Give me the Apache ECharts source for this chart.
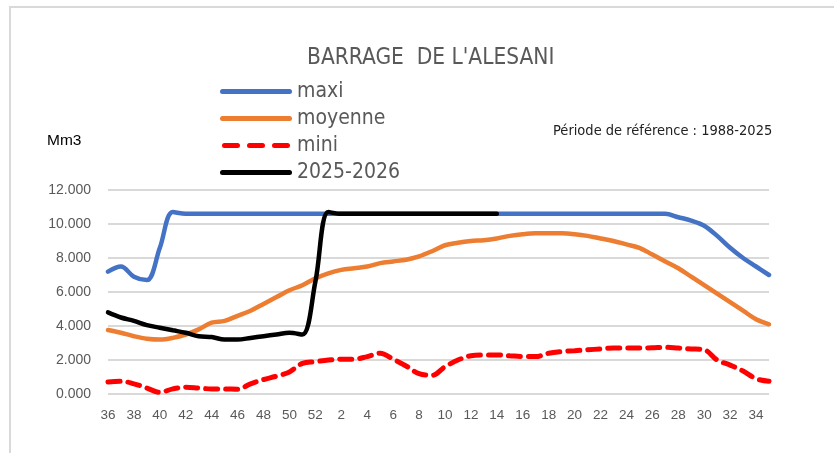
<!DOCTYPE html>
<html>
<head>
<meta charset="utf-8">
<script src="https://cdn.jsdelivr.net/npm/echarts@6/dist/echarts.min.js"></script>
<style>
  html, body { margin: 0; padding: 0; background: #fff; }
  #frame { position: absolute; left: 9px; top: 6px; width: 840px; height: 460px;
           border-left: 2px solid #d9d9d9; border-top: 2px solid #d9d9d9; }
  #chart { position: absolute; left: 0; top: 0; width: 834px; height: 453px; }
</style>
</head>
<body>
<div id="frame"></div>
<div id="chart"></div>
<script>
// semaines : 36 -> 52 puis 1 -> 35
const weeks = [36, 37, 38, 39, 40, 41, 42, 43, 44, 45, 46, 47, 48, 49, 50, 51, 52,
  1, 2, 3, 4, 5, 6, 7, 8, 9, 10, 11, 12, 13, 14, 15, 16, 17, 18, 19, 20,
  21, 22, 23, 24, 25, 26, 27, 28, 29, 30, 31, 32, 33, 34, 35];

// volumes en Mm3
const maxi = [7.2, 7.5, 6.9, 6.7, 8.6, 10.7, 10.6, 10.6, 10.6, 10.6, 10.6, 10.6, 10.6, 10.6, 10.6, 10.6, 10.6,
  10.6, 10.6, 10.6, 10.6, 10.6, 10.6, 10.6, 10.6, 10.6, 10.6, 10.6, 10.6, 10.6, 10.6, 10.6, 10.6, 10.6, 10.6, 10.6, 10.6,
  10.6, 10.6, 10.6, 10.6, 10.6, 10.6, 10.6, 10.4, 10.2, 9.9, 9.3, 8.6, 8.0, 7.5, 7.0];

const moyenne = [3.76, 3.6, 3.4, 3.25, 3.2, 3.3, 3.5, 3.8, 4.2, 4.3, 4.6, 4.9, 5.3, 5.7, 6.1, 6.4, 6.8,
  7.1, 7.3, 7.4, 7.5, 7.7, 7.8, 7.9, 8.1, 8.4, 8.75, 8.9, 9.0, 9.05, 9.15, 9.3, 9.4, 9.45, 9.45, 9.45, 9.4,
  9.3, 9.15, 9.0, 8.8, 8.6, 8.2, 7.8, 7.4, 6.9, 6.4, 5.9, 5.4, 4.9, 4.4, 4.1];

const mini = [0.7, 0.75, 0.6, 0.35, 0.1, 0.3, 0.4, 0.35, 0.3, 0.3, 0.28, 0.6, 0.85, 1.05, 1.3, 1.8, 1.9,
  2.0, 2.05, 2.05, 2.2, 2.4, 2.05, 1.65, 1.2, 1.1, 1.6, 2.0, 2.25, 2.3, 2.3, 2.25, 2.2, 2.2, 2.4, 2.5, 2.55,
  2.6, 2.65, 2.7, 2.7, 2.7, 2.72, 2.75, 2.7, 2.65, 2.6, 2.0, 1.7, 1.35, 0.9, 0.75];

const saison = [4.8, 4.5, 4.3, 4.05, 3.9, 3.75, 3.6, 3.4, 3.35, 3.2, 3.2, 3.3, 3.4, 3.5, 3.6, 3.5, 6.6,
  10.7, 10.6, 10.6, 10.6, 10.6, 10.6, 10.6, 10.6, 10.6, 10.6, 10.6, 10.6, 10.6, 10.6];

const yTicks = [0, 2, 4, 6, 8, 10, 12];

const narrow = "'Liberation Sans Narrow', 'DejaVu Sans Condensed', 'Liberation Sans', sans-serif";
const plain = "'Liberation Sans', Arial, sans-serif";
const grey = '#595959';

const solidIcon = 'path://M2.5,0 H69.5 A2.5,2.5 0 0 1 69.5,5 H2.5 A2.5,2.5 0 0 1 2.5,0 Z';
const dashIcon = 'path://M2.5,0 H15.5 A2.5,2.5 0 0 1 15.5,5 H2.5 A2.5,2.5 0 0 1 2.5,0 Z ' +
  'M27.5,0 H40.5 A2.5,2.5 0 0 1 40.5,5 H27.5 A2.5,2.5 0 0 1 27.5,0 Z ' +
  'M52.5,0 H65.5 A2.5,2.5 0 0 1 65.5,5 H52.5 A2.5,2.5 0 0 1 52.5,0 Z';

const chart = echarts.init(document.getElementById('chart'));

chart.setOption({
  animation: false,
  title: {
    text: "BARRAGE  DE L'ALESANI",
    left: 302,
    top: 42,
    textStyle: { color: grey, fontFamily: narrow, fontWeight: 'normal', fontSize: 22.5 }
  },
  legend: {
    orient: 'vertical',
    left: 215,
    top: 76,
    itemWidth: 72,
    itemHeight: 5,
    itemGap: 6,
    textStyle: { color: grey, fontFamily: narrow, fontSize: 21 },
    data: [
      { name: 'maxi', icon: solidIcon },
      { name: 'moyenne', icon: solidIcon },
      { name: 'mini', icon: dashIcon },
      { name: '2025-2026', icon: solidIcon }
    ]
  },
  graphic: [
    { type: 'text', left: 47, top: 133, style: { text: 'Mm3', fill: '#000', font: '15.5px ' + plain } },
    { type: 'text', left: 553, top: 124, style: { text: 'Période de référence : 1988-2025', fill: '#222', font: '14.5px ' + narrow } }
  ],
  grid: { left: 108, right: 65, top: 190, bottom: 59 },
  xAxis: {
    type: 'category',
    data: weeks,
    boundaryGap: false,
    axisLine: { show: false },
    axisTick: { show: false },
    axisLabel: { interval: 1, color: grey, fontFamily: plain, fontSize: 13.5, margin: 14 }
  },
  yAxis: {
    type: 'value',
    min: yTicks[0],
    max: yTicks[yTicks.length - 1],
    interval: 2,
    axisLine: { show: false },
    axisTick: { show: false },
    splitLine: { lineStyle: { color: '#d9d9d9', width: 2 } },
    axisLabel: { color: grey, fontFamily: plain, fontSize: 14, margin: 17,
      formatter: v => v.toFixed(3) }
  },
  series: [
    { name: 'maxi', type: 'line', data: maxi, smooth: 0.35, symbol: 'none',
      lineStyle: { color: '#4472c4', width: 4.5, cap: 'round' }, itemStyle: { color: '#4472c4' } },
    { name: 'moyenne', type: 'line', data: moyenne, smooth: 0.35, symbol: 'none',
      lineStyle: { color: '#ed7d31', width: 4.5, cap: 'round' }, itemStyle: { color: '#ed7d31' } },
    { name: 'mini', type: 'line', data: mini, smooth: 0.35, symbol: 'none',
      lineStyle: { color: '#ff0000', width: 5, type: [12, 8], cap: 'round' }, itemStyle: { color: '#ff0000' } },
    { name: '2025-2026', type: 'line', data: saison, smooth: 0.35, symbol: 'none',
      lineStyle: { color: '#000000', width: 4.5, cap: 'round' }, itemStyle: { color: '#000000' } }
  ]
});
</script>
</body>
</html>
